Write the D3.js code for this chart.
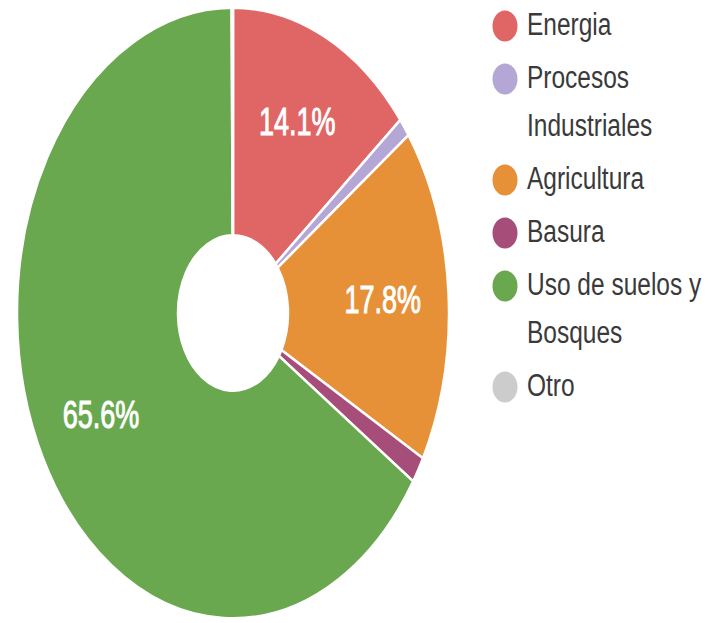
<!DOCTYPE html>
<html>
<head>
<meta charset="utf-8">
<script src="https://cdn.jsdelivr.net/npm/d3@7"></script>
<style>
  html, body { margin: 0; padding: 0; background: #ffffff; }
  svg { display: block; }
</style>
</head>
<body>
<svg id="chart" width="708" height="623"></svg>
<script>
// ---- data ----
const categories = ["Energía", "Procesos Industriales", "Agricultura", "Basura", "Uso de suelos y Bosques", "Otro"];
const values = [14.1, 1.0, 17.8, 1.4, 65.6, 0.1];
const sliceLabels = ["14.1%", "", "17.8%", "", "65.6%", ""];
const legendLines = [["Energia"], ["Procesos", "Industriales"], ["Agricultura"], ["Basura"], ["Uso de suelos y", "Bosques"], ["Otro"]];
const colors = ["#e06666", "#b4a7d6", "#e69138", "#a64d79", "#6aa84f", "#cccccc"];

// ---- layout ----
const cx = 233, cy = 313;
const R = 216, r0 = 55;
const stretchY = 1.413;
const labelR = 150;

const svg = d3.select("#chart");

const color = d3.scaleOrdinal().domain(categories).range(colors);

const pie = d3.pie().sort(null).value(d => d.value);
const data = categories.map((c, i) => ({ name: c, value: values[i], label: sliceLabels[i] }));
const arcs = pie(data);

const arc = d3.arc().innerRadius(r0).outerRadius(R);
const labelArc = d3.arc().innerRadius(labelR).outerRadius(labelR);

const g = svg.append("g").attr("transform", `translate(${cx},${cy}) scale(1,${stretchY})`);

g.selectAll("path.slice")
  .data(arcs)
  .join("path")
  .attr("class", "slice")
  .attr("d", arc)
  .attr("fill", d => color(d.data.name))
  .attr("stroke", "#ffffff")
  .attr("stroke-width", 2.5)
  .attr("vector-effect", "non-scaling-stroke");

g.selectAll("text.lbl")
  .data(arcs.filter(d => d.data.label))
  .join("text")
  .attr("class", "lbl")
  .attr("transform", d => `translate(${labelArc.centroid(d)})`)
  .attr("text-anchor", "middle")
  .attr("dy", "0.36em")
  .attr("font-family", "Arial, 'Liberation Sans', sans-serif")
  .attr("font-size", 27)
  .attr("font-weight", "normal")
  .attr("fill", "#ffffff")
  .attr("stroke", "#ffffff")
  .attr("stroke-width", 0.7)
  .text(d => d.data.label);

// ---- legend ----
const legendX = 505, textX = 527;
const firstBaseline = 35, itemStep = 53, wrapStep = 48;
const legendScaleY = 1.3;
let y = firstBaseline;
const legendRows = legendLines.map((lines, i) => {
  const row = { name: categories[i], lines, y };
  y += itemStep + (lines.length - 1) * wrapStep;
  return row;
});

const lg = svg.append("g").attr("class", "legend");
const items = lg.selectAll("g.item").data(legendRows).join("g").attr("class", "item");

items.append("ellipse")
  .attr("cx", legendX)
  .attr("cy", d => d.y - 9)
  .attr("rx", 12.5)
  .attr("ry", 15.5)
  .attr("fill", d => color(d.name));

items.each(function (d) {
  d3.select(this).selectAll("text")
    .data(d.lines.map((t, k) => ({ t, y: d.y + k * wrapStep })))
    .join("text")
    .attr("transform", t => `translate(${textX},${t.y}) scale(1,${legendScaleY})`)
    .attr("font-family", "Arial, 'Liberation Sans', sans-serif")
    .attr("font-size", 24.5)
    .attr("fill", "#3a3a3a")
    .text(t => t.t);
});
</script>
</body>
</html>
